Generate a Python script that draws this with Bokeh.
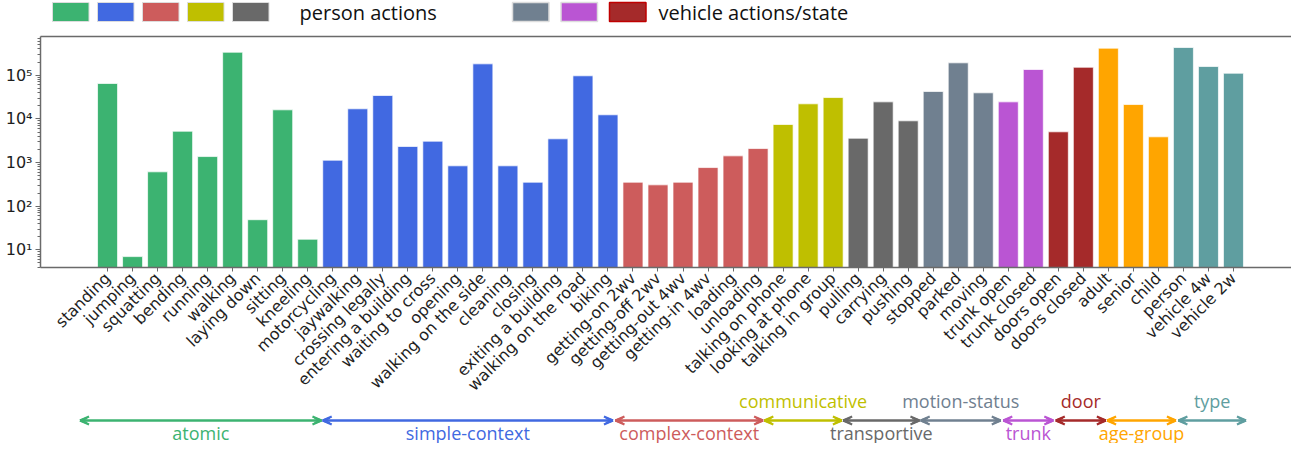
import math
from bokeh.plotting import figure
from bokeh.models import (Range1d, LinearAxis, LinearScale, FixedTicker,
                          ColumnDataSource)
from bokeh.core.properties import value
from bokeh.embed import file_html
from bokeh.resources import INLINE

# ---------------- data ----------------
categories = [
    "standing", "jumping", "squatting", "bending", "running", "walking",
    "laying down", "sitting", "kneeling",
    "motorcycling", "jaywalking", "crossing legally", "entering a building",
    "waiting to cross", "opening", "walking on the side", "cleaning", "closing",
    "exiting a building", "walking on the road", "biking",
    "getting-on 2wv", "getting-off 2wv", "getting-out 4wv", "getting-in 4wv",
    "loading", "unloading",
    "talking on phone", "looking at phone", "talking in group",
    "pulling", "carrying", "pushing",
    "stopped", "parked", "moving",
    "trunk open", "trunk closed",
    "doors open", "doors closed",
    "adult", "senior", "child",
    "person", "vehicle 4w", "vehicle 2w",
]
counts = [
    64600, 7, 612, 5210, 1370, 336000, 49, 16100, 17.5,
    1130, 17000, 34300, 2330, 3080, 840, 182000, 840, 354, 3490, 96900, 12400,
    354, 308, 354, 767, 1420, 2090,
    7430, 22100, 30800,
    3600, 24500, 9020,
    42400, 192000, 39500,
    24500, 135000,
    5050, 152000,
    416000, 21300, 3880,
    431000, 158000, 111000,
]
groups = ["atomic", "simple-context", "complex-context", "communicative",
          "transportive", "motion-status", "trunk", "door", "age-group", "type"]
group_sizes = [9, 12, 6, 3, 3, 3, 2, 2, 3, 3]
group_colors = ["#3CB371", "#4169E1", "#CD5C5C", "#BFBF00", "#696969",
                "#708090", "#BA55D3", "#A52A2A", "#FFA500", "#5F9EA0"]
group_label_side = ["below", "below", "below", "above", "below",
                    "above", "below", "above", "below", "above"]
# arrow extents (in bar-index units)
arrow_lo = [-1.1, 8.6, 20.3, 26.25, 29.4, 32.5, 35.8, 37.9, 39.95, 42.8]
arrow_hi = [8.55, 20.2, 26.2, 29.35, 32.45, 35.7, 37.8, 39.9, 42.7, 45.5]

legend_person_colors = ["#3CB371", "#4169E1", "#CD5C5C", "#BFBF00", "#696969"]
legend_vehicle_colors = ["#708090", "#BA55D3", "#A52A2A"]
legend_texts = ["person actions", "vehicle actions/state"]

ytick_values = [10, 100, 1000, 10000, 100000]
ytick_labels = ["10\u00b9", "10\u00b2", "10\u00b3", "10\u2074", "10\u2075"]

# ---------------- layout ----------------
W, H = 1291, 443
FL, FT, FB = 40, 36, 267          # frame left / top / bottom (px)
GL_FONT = value("Open Sans")
X_PX = (W - FL) / 50.0            # px per bar-index unit

bar_colors = []
for c, n in zip(group_colors, group_sizes):
    bar_colors += [c] * n

p = figure(width=W, height=H, y_axis_type="log",
           x_range=Range1d(-2.68, 47.32), y_range=Range1d(3.94, 7.7e5),
           output_backend="svg", toolbar_location=None,
           min_border_left=FL, min_border_right=0, min_border_top=FT,
           min_border_bottom=H - FB, outline_line_color=None)
p.background_fill_color = "white"
p.border_fill_color = "white"
p.xgrid.visible = False
p.ygrid.visible = False

# helper ranges: x in canvas px, y = -(canvas px from top), both linear
p.extra_x_ranges = {"px": Range1d(FL, W)}
p.extra_y_ranges = {"py": Range1d(-FB, -FT)}
p.extra_x_scales = {"px": LinearScale()}
p.extra_y_scales = {"py": LinearScale()}

src = ColumnDataSource(dict(x=list(range(len(categories))), top=counts,
                            color=bar_colors))
p.vbar(x="x", top="top", bottom=1, width=0.8, source=src,
       fill_color="color", line_color="white", line_width=1, line_alpha=0.7)

axis_col = "#6a6a6a"
xa = p.xaxis[0]
xa.ticker = FixedTicker(ticks=list(range(len(categories))))
xa.major_label_overrides = {i: c for i, c in enumerate(categories)}
xa.major_label_orientation = math.pi / 4
xa.major_label_text_font = "DejaVu Sans"
xa.major_label_text_font_size = "16px"
xa.major_label_text_color = "#1e1e1e"
xa.major_label_standoff = 4
xa.axis_line_color = axis_col
xa.axis_line_width = 1.5
xa.major_tick_in = 0
xa.major_tick_out = 4
xa.major_tick_line_color = axis_col
xa.minor_tick_line_color = None

ya = p.yaxis[0]
minor = [m * 10 ** e for e in range(0, 6) for m in range(2, 10)]
ya.ticker = FixedTicker(ticks=ytick_values, minor_ticks=minor)
ya.major_label_overrides = dict(zip(ytick_values, ytick_labels))
ya.major_label_text_font = "DejaVu Sans"
ya.major_label_text_font_size = "16px"
ya.major_label_text_color = "#1e1e1e"
ya.major_label_standoff = 3
ya.axis_line_color = axis_col
ya.axis_line_width = 1.5
ya.major_tick_in = 0
ya.major_tick_out = 5
ya.minor_tick_in = 0
ya.minor_tick_out = 3
ya.major_tick_line_color = axis_col
ya.minor_tick_line_color = axis_col

top_axis = LinearAxis(ticker=FixedTicker(ticks=[]), axis_line_color=axis_col,
                      axis_line_width=1.5, major_tick_out=0, major_tick_in=0,
                      minor_tick_out=0, minor_tick_in=0,
                      major_label_text_font_size="0px")
p.add_layout(top_axis, "above")

# ---------------- legend (top) ----------------
sw_w, sw_gap = 36.5, 8.5
x0 = 52
for i, c in enumerate(legend_person_colors):
    l = x0 + i * (sw_w + sw_gap)
    r = p.quad(left=l, right=l + sw_w, top=-2, bottom=-21, fill_color=c,
               line_color="#dddddd", line_width=1,
               x_range_name="px", y_range_name="py")
    r.level = "overlay"
x1 = 512
for i, c in enumerate(legend_vehicle_colors):
    l = x1 + i * (sw_w + 12)
    lc = "#C00000" if i == 2 else "#dddddd"
    r = p.quad(left=l, right=l + sw_w, top=-2, bottom=-21, fill_color=c,
               line_color=lc, line_width=1.5,
               x_range_name="px", y_range_name="py")
    r.level = "overlay"
r = p.text(x=[299, 658], y=[-12, -12], text=legend_texts,
           x_range_name="px", y_range_name="py",
           text_baseline="middle", text_align="left", text_font=GL_FONT,
           text_font_size="20px", text_color="#111111")
r.level = "overlay"

# ---------------- group arrows & labels (bottom) ----------------
ARROW_Y, ABOVE_Y, BELOW_Y = -420, -400, -432
mids = [(lo + hi) / 2 for lo, hi in zip(arrow_lo, arrow_hi)]
ann = ColumnDataSource(dict(
    lo=arrow_lo, hi=arrow_hi, mid=mids, name=groups, color=group_colors,
    ay=[ARROW_Y] * len(groups),
    ty=[ABOVE_Y if s == "above" else BELOW_Y for s in group_label_side],
))
r = p.segment(x0="lo", x1="hi", y0="ay", y1="ay", source=ann,
              line_color="color", line_width=2.5, y_range_name="py")
r.level = "overlay"

# arrow heads drawn as short strokes from each tip (chevrons, nearly filled)
hx0, hx1, hy0, hy1, hc = [], [], [], [], []
for lo, hi, c in zip(arrow_lo, arrow_hi, group_colors):
    for tip, d in ((lo, 1), (hi, -1)):
        for L, hw in ((9, 4.0), (9, -4.0), (7, 2.5), (7, -2.5)):
            hx0.append(tip)
            hy0.append(ARROW_Y)
            hx1.append(tip + d * L / X_PX)
            hy1.append(ARROW_Y + hw)
            hc.append(c)
r = p.segment(x0=hx0, y0=hy0, x1=hx1, y1=hy1, line_color=hc, line_width=2.2,
              y_range_name="py")
r.level = "overlay"

r = p.text(x="mid", y="ty", text="name", source=ann, text_align="center",
           text_baseline="middle", text_font=GL_FONT, text_font_size="18px",
           text_color="color", y_range_name="py")
r.level = "overlay"

open("out.html", "w").write(file_html(p, INLINE))
